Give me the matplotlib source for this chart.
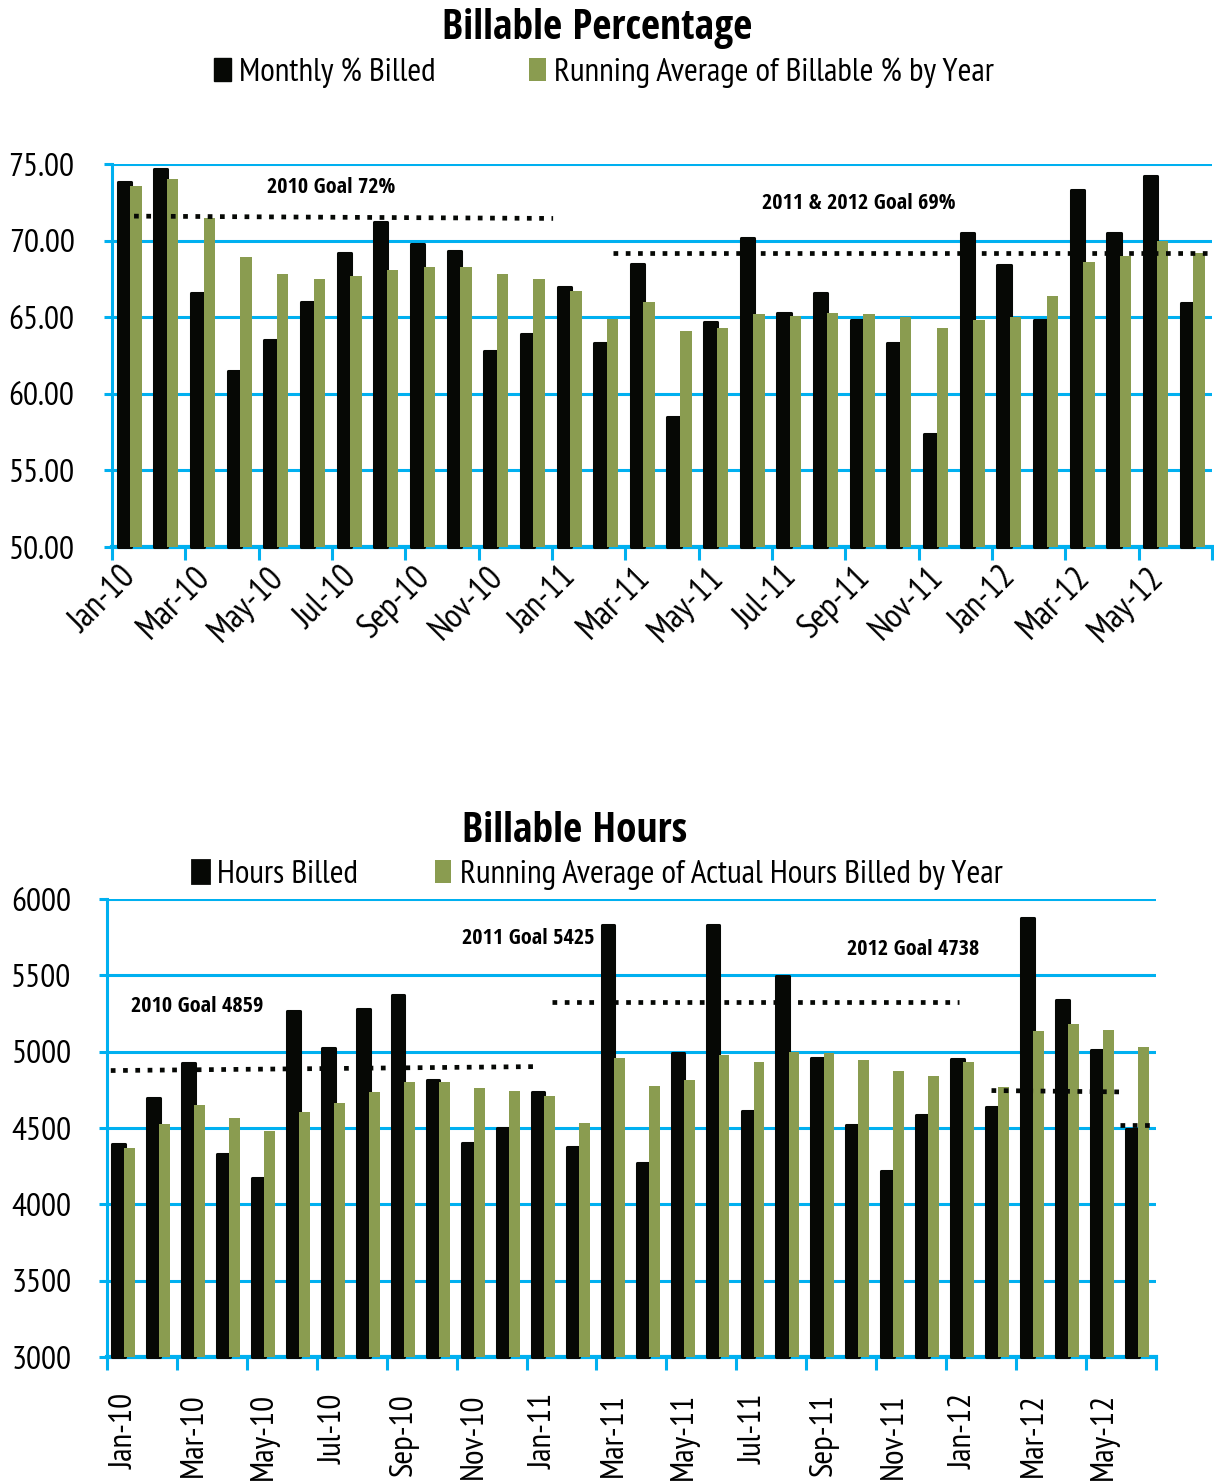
import numpy as np
import matplotlib
matplotlib.use("Agg")
import matplotlib.pyplot as plt
import matplotlib.transforms as mtransforms
from matplotlib.ticker import MultipleLocator, FixedLocator
from matplotlib.patches import Patch

plt.rcParams['font.family'] = ['PT Sans Narrow', 'DejaVu Sans']
bold_font = ['Open Sans Condensed', 'DejaVu Sans']

months = ['Jan-10', 'Feb-10', 'Mar-10', 'Apr-10', 'May-10', 'Jun-10', 'Jul-10', 'Aug-10',
          'Sep-10', 'Oct-10', 'Nov-10', 'Dec-10', 'Jan-11', 'Feb-11', 'Mar-11', 'Apr-11',
          'May-11', 'Jun-11', 'Jul-11', 'Aug-11', 'Sep-11', 'Oct-11', 'Nov-11', 'Dec-11',
          'Jan-12', 'Feb-12', 'Mar-12', 'Apr-12', 'May-12', 'Jun-12']

monthly_pct = [73.8, 74.7, 66.6, 61.5, 63.5, 66.0, 69.2, 71.2, 69.8, 69.3, 62.8, 63.9,
               67.0, 63.3, 68.5, 58.5, 64.7, 70.2, 65.3, 66.6, 64.8, 63.3, 57.4, 70.5,
               68.4, 64.8, 73.3, 70.5, 74.2, 65.9]
running_pct = [73.6, 74.0, 71.5, 68.9, 67.8, 67.5, 67.7, 68.1, 68.3, 68.3, 67.8, 67.5,
               66.7, 64.9, 66.0, 64.1, 64.3, 65.2, 65.1, 65.3, 65.2, 65.0, 64.3, 64.8,
               65.0, 66.4, 68.6, 69.0, 70.0, 69.2]

hours_billed = [4395, 4700, 4925, 4330, 4175, 5270, 5028, 5280, 5373, 4816, 4405, 4502,
                4737, 4375, 5829, 4274, 4993, 5829, 4610, 5496, 4960, 4522, 4221, 4586,
                4954, 4638, 5879, 5340, 5013, 4491]
running_hours = [4371, 4528, 4653, 4568, 4482, 4607, 4667, 4739, 4805, 4805, 4765, 4746,
                 4713, 4535, 4956, 4778, 4818, 4982, 4930, 4996, 4989, 4943, 4871, 4844,
                 4936, 4772, 5134, 5180, 5140, 5029]

# goal lines as drawn: (x start, x end, y start, y end)
pct_goals = [(0.1, 11.53, 71.6, 71.45), (13.16, 29.5, 69.2, 69.2)]
pct_goal_labels = [(3.73, 73.5, '2010 Goal 72%'), (17.23, 72.45, '2011 & 2012 Goal 69%')]
hours_goals = [(-0.39, 11.8, 4877, 4903), (12.23, 23.86, 5327, 5327),
               (24.8, 28.55, 4746, 4737), (28.47, 29.5, 4520, 4520)]
hours_goal_labels = [(0.19, 5299, '2010 Goal 4859'), (9.65, 5745, '2011 Goal 5425'),
                     (20.66, 5672, '2012 Goal 4738')]

black = '#060805'
green = '#8A9C50'
blue = '#00B0F0'

fig = plt.figure(figsize=(12.14, 14.82), dpi=100)
ax1 = fig.add_axes([0.0923, 0.6309, 0.906, 0.2584])
ax2 = fig.add_axes([0.0881, 0.0843, 0.864, 0.309])

x = np.arange(len(months))


def style_axes(ax, ymin, ymax, ystep, fmt, ypad):
    ax.set_xlim(-0.5, len(months) - 0.5)
    ax.set_ylim(ymin, ymax)
    ax.yaxis.set_major_locator(MultipleLocator(ystep))
    ax.yaxis.set_major_formatter(fmt)
    ax.grid(axis='y', color=blue, linewidth=2.2, zorder=0)
    ax.set_axisbelow(True)
    for s in ['top', 'right']:
        ax.spines[s].set_visible(False)
    ax.spines['left'].set_color(blue)
    ax.spines['left'].set_linewidth(2.2)
    ax.spines['bottom'].set_color(blue)
    ax.spines['bottom'].set_linewidth(3)
    ax.spines['bottom'].set_zorder(1)
    ax.tick_params(axis='y', colors=blue, labelcolor='black', labelsize=24,
                   length=6, width=2.2, pad=ypad)
    ax.xaxis.set_major_locator(FixedLocator(x[::2]))
    ax.xaxis.set_minor_locator(FixedLocator(np.arange(-0.5, len(months), 2)))
    ax.tick_params(axis='x', which='major', length=0, labelsize=24)
    ax.tick_params(axis='x', which='minor', length=9, width=2.2, color=blue, direction='out')


def draw_bars(ax, a, b, base):
    ax.bar(x - 0.17, np.array(a) - base, bottom=base, width=0.36, color=black,
           edgecolor=black, linewidth=2.2, joinstyle='round', zorder=2, clip_on=False)
    ax.bar(x + 0.15, np.array(b) - base, bottom=base, width=0.31, color=green,
           linewidth=0, zorder=3)


# top chart
style_axes(ax1, 50, 75, 5, '{x:.2f}', 21)
draw_bars(ax1, monthly_pct, running_pct, 50)
ax1.set_xticks(x[::2])
ax1.set_xticklabels(months[::2], rotation=45, ha='right', va='top', rotation_mode='anchor',
                    fontsize=25)
ax1.tick_params(axis='x', which='major', pad=10)
shift = mtransforms.ScaledTranslation(-10 / 100, 0, fig.dpi_scale_trans)
for lab in ax1.get_xticklabels():
    lab.set_transform(lab.get_transform() + shift)
for x0, x1, y0, y1 in pct_goals:
    ax1.plot([x0, x1], [y0, y1], color=black, linewidth=3.4, linestyle=(0, (1, 1.6)),
             dash_capstyle='butt', zorder=4)
for gx, gy, t in pct_goal_labels:
    ax1.text(gx, gy, t, ha='left', va='center', fontsize=16, fontweight='bold',
             family=bold_font, zorder=5)

# bottom chart
style_axes(ax2, 3000, 6000, 500, '{x:.0f}', 19.5)
draw_bars(ax2, hours_billed, running_hours, 3000)
ax2.set_xticks(x[::2])
ax2.set_xticklabels(months[::2], rotation=90, ha='center', va='top')
ax2.tick_params(axis='x', which='major', pad=26)
for x0, x1, y0, y1 in hours_goals:
    ax2.plot([x0, x1], [y0, y1], color=black, linewidth=3.4, linestyle=(0, (1, 1.6)),
             dash_capstyle='butt', zorder=4)
for gx, gy, t in hours_goal_labels:
    ax2.text(gx, gy, t, ha='left', va='center', fontsize=16, fontweight='bold',
             family=bold_font, zorder=5)

# titles and legends
fig.text(0.4918, 0.981, 'Billable Percentage', ha='center', va='center',
         fontsize=30, fontweight='bold', family=bold_font)
fig.text(0.4736, 0.4387, 'Billable Hours', ha='center', va='center',
         fontsize=30, fontweight='bold', family=bold_font)

h1 = [Patch(facecolor=black, edgecolor=black), Patch(facecolor=green)]
fig.legend(h1, ['Monthly % Billed', 'Running Average of Billable % by Year'],
           loc='center', bbox_to_anchor=(0.4977, 0.951), ncol=2, frameon=False,
           fontsize=24, handlelength=0.5, handleheight=0.7, handletextpad=0.25,
           columnspacing=2.8, borderaxespad=0)
h2 = [Patch(facecolor=black, edgecolor=black, joinstyle='round', linewidth=2), Patch(facecolor=green)]
fig.legend(h2, ['Hours Billed', 'Running Average of Actual Hours Billed by Year'],
           loc='center', bbox_to_anchor=(0.492, 0.4095), ncol=2, frameon=False,
           fontsize=24, handlelength=0.5, handleheight=0.7, handletextpad=0.25,
           columnspacing=2.3, borderaxespad=0)

fig.savefig('out.png', dpi=100)
